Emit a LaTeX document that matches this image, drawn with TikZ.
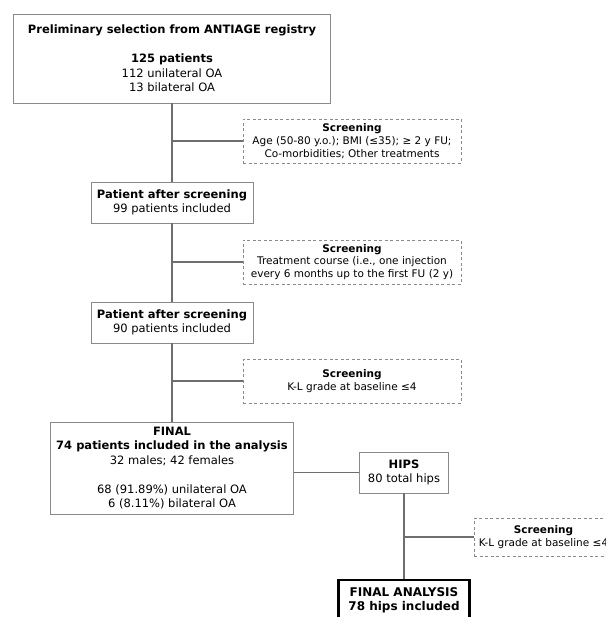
\documentclass[tikz,border=0pt]{standalone}
\usepackage{fontspec}
\setmainfont{DejaVu Sans}
\definecolor{boxgrey}{HTML}{8A8A8A}
\definecolor{linegrey}{HTML}{6E6E6E}
\tikzset{
  solidbox/.style={draw=boxgrey, line width=0.9pt, align=center, inner sep=0pt, font=\fontsize{11.5}{14.4}\selectfont},
  screenbox/.style={draw=boxgrey, line width=0.8pt, dash pattern=on 3pt off 2.5pt, align=center, inner sep=0pt, font=\fontsize{10.5}{12.8}\selectfont},
  finalbox/.style={draw=black, line width=2.6pt, align=center, inner sep=0pt, font=\fontsize{12}{14.4}\selectfont},
  link/.style={draw=linegrey, line width=1.1pt}
}
\begin{document}
\begin{tikzpicture}[x=1pt,y=1pt,yscale=-1,xscale=1]
\useasboundingbox (0,0) rectangle (605,617);
\clip (0,0) rectangle (605,617);

%Box: registry
\node[solidbox, minimum width=317, minimum height=89] (registry) at (172,58.5) {\textbf{Preliminary selection from ANTIAGE registry}\\[14.4pt]
\textbf{125 patients}\\
112 unilateral OA\\
13 bilateral OA};
%Box: first screening
\node[screenbox, minimum width=218, minimum height=44] (scrA) at (352,141) {\textbf{Screening}\\
Age (50-80 y.o.); BMI (≤35); ≥ 2 y FU;\\
Co-morbidities; Other treatments};
%Box: after first screening
\node[solidbox, minimum width=162, minimum height=41] (afterA) at (172,202.5) {\textbf{Patient after screening}\\
99 patients included};
%Box: second screening
\node[screenbox, minimum width=218, minimum height=44] (scrB) at (352,262) {\textbf{Screening}\\
Treatment course (i.e., one injection\\
every 6 months up to the first FU (2 y)};
%Box: after second screening
\node[solidbox, minimum width=162, minimum height=41] (afterB) at (172,322.5) {\textbf{Patient after screening}\\
90 patients included};
%Box: third screening
\node[screenbox, minimum width=218, minimum height=44] (scrC) at (352,381) {\textbf{Screening}\\
K-L grade at baseline ≤4};
%Box: final patients
\node[solidbox, minimum width=243, minimum height=92] (final) at (172,468) {\textbf{FINAL}\\
\textbf{74 patients included in the analysis}\\
32 males; 42 females\\[14.4pt]
68 (91.89\%) unilateral OA\\
6 (8.11\%) bilateral OA};
%Box: hips
\node[solidbox, minimum width=89, minimum height=41] (hips) at (404,472.5) {\textbf{HIPS}\\
80 total hips};
%Box: hip screening
\node[screenbox, minimum width=139, minimum height=38] (scrD) at (543.5,537) {\textbf{Screening}\\
K-L grade at baseline ≤4};
%Box: final analysis
\node[finalbox, minimum width=131, minimum height=40] (analysis) at (404,600) {\textbf{FINAL ANALYSIS}\\
\textbf{78 hips included}};

%Connectors
\draw[link] (registry.south) -- (afterA.north);
\draw[link] (afterA.south) -- (afterB.north);
\draw[link] (afterB.south) -- (final.north);
\draw[link] (scrA.west) -- (scrA.west -| registry.south);
\draw[link] (scrB.west) -- (scrB.west -| afterA.south);
\draw[link] (scrC.west) -- (scrC.west -| afterB.south);
\draw[link] (final.east |- hips.west) -- (hips.west);
\draw[link] (hips.south) -- (analysis.north);
\draw[link] (scrD.west) -- (scrD.west -| hips.south);
\end{tikzpicture}
\end{document}
